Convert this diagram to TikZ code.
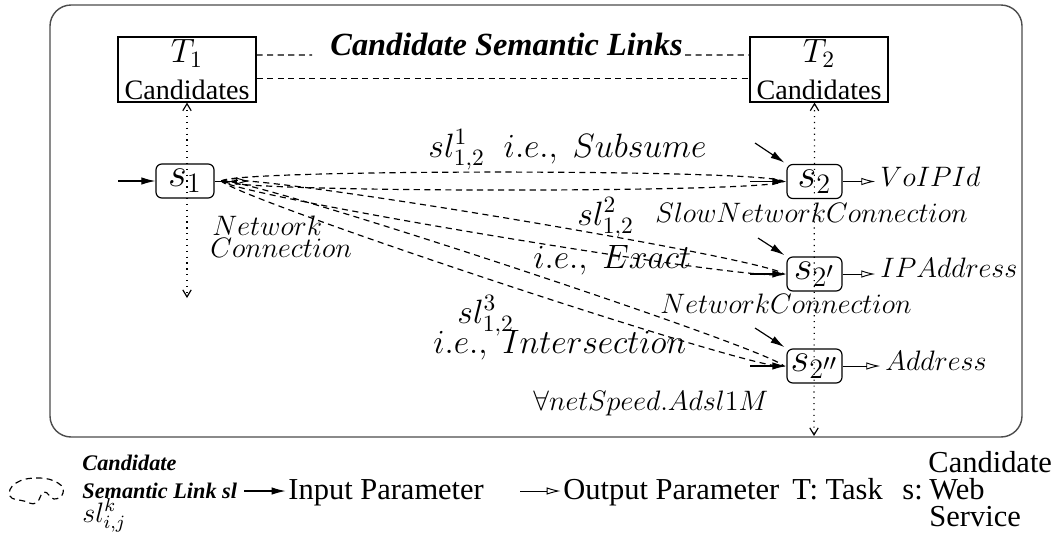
\documentclass[tikz,border=0pt]{standalone}
\usepackage[no-math]{fontspec}
\setmainfont{Liberation Serif}
\usetikzlibrary{arrows.meta}
\pgfdeclarelayer{bg}
\pgfdeclarelayer{fg}
\pgfsetlayers{bg,main,fg}

\begin{document}
\begin{tikzpicture}[x=0.015cm, y=-0.015cm,
    task/.style={draw, line width=0.5pt, minimum width=2.07cm, minimum height=0.975cm, inner sep=0pt, align=center, font=\fontsize{12}{15.5}\selectfont},
    wsbox/.style={draw, line width=0.5pt, rounded corners=2.5pt, minimum width=0.87cm, minimum height=0.51cm, inner sep=0pt, font=\fontsize{17.28}{19}\selectfont},
    link/.style={dash pattern=on 2.6pt off 1.9pt, line width=0.5pt},
    inarrow/.style={-{Latex[length=6pt,width=3.2pt]}, line width=0.5pt},
    outarrow/.style={-{Latex[open,length=6pt,width=3.2pt]}, line width=0.4pt},
    taskline/.style={dotted, line width=0.5pt, {Straight Barb[length=3pt,width=3.6pt]}-{Straight Barb[length=3pt,width=3.6pt]}},
    bigmath/.style={font=\fontsize{14.4}{16}\selectfont, inner sep=0pt, anchor=base west},
    smallmath/.style={font=\fontsize{12}{14}\selectfont, inner sep=0pt, anchor=base west},
    outlabel/.style={font=\fontsize{12}{14}\selectfont, inner sep=0pt, anchor=base west},
    legend/.style={font=\fontsize{13}{15}\selectfont, inner sep=0pt, anchor=base west},
    legendbi/.style={font=\fontsize{9.5}{12}\selectfont\bfseries\itshape, inner sep=0pt, anchor=base west},
    titletext/.style={font=\fontsize{13.8}{16}\selectfont\bfseries\itshape, inner sep=0pt, anchor=base west}
]
\useasboundingbox (0,0) rectangle (1059,552);
\draw[rounded corners=9pt, line width=0.6pt, black!70] (50,5) rectangle (1022,437);

\node[task] (T1) at (187,69.5) {{\fontsize{14.4}{16}\selectfont$T_1$}\\Candidates};
\node[task] (T2) at (819,69.5) {{\fontsize{14.4}{16}\selectfont$T_2$}\\Candidates};
\node[titletext] (ttl) at (330,55) {Candidate Semantic Links};
\coordinate (tl1) at (312,55);
\coordinate (tl2) at (685,55);
\draw[link] ([yshift=6.2pt]T1.east) -- (tl1);
\draw[link] (tl2) -- ([yshift=6.2pt]T2.west);
\draw[link] ([yshift=-4pt]T1.east) -- ([yshift=-4pt]T2.west);

\node[wsbox] (s1) at (185,181) {$s_1$};
\node[wsbox, minimum width=0.825cm] (s2) at (814.5,181.5) {$s_2$};
\node[wsbox, minimum width=0.825cm] (s2p) at (814.5,274) {$s_{2'}$};
\node[wsbox, minimum width=0.825cm] (s2pp) at (814.5,366) {$s_{2''}$};

\coordinate (t1end) at (187,298);
\coordinate (t2end) at (814,436);
\draw[taskline] (T1.south) -- (t1end);
\draw[taskline] (T2.south -| s2) -- (t2end);

\coordinate (in1) at (118,181);
\coordinate (out1) at (250,181);
\draw[inarrow] (in1) -- (s1.west);
\draw[outarrow] (s1.east) -- (out1);

\coordinate (p1) at ([xshift=0.1cm]s1.east);
\coordinate (q1) at ([xshift=-0.04cm]s2.west);
\coordinate (q2) at ([xshift=-0.04cm]s2p.west);
\coordinate (q3) at ([xshift=-0.04cm]s2pp.west);
\draw[link] (p1) .. controls (234,169) and (772,169) .. (q1) .. controls (772,193) and (234,193) .. (p1);
\draw[link] (p1) .. controls (240,170) and (770,259) .. (q2) .. controls (770,285) and (240,197) .. (p1);
\draw[link] (p1) .. controls (240,174) and (770,349) .. (q3) .. controls (770,376) and (240,200) .. (p1);

\coordinate (h2) at (750,181.5);
\coordinate (h2p) at (750,274);
\coordinate (h2pp) at (750,366);
\draw[inarrow] (h2) -- (s2.west);
\draw[inarrow] (h2p) -- (s2p.west);
\draw[inarrow] (h2pp) -- (s2pp.west);
\coordinate (d2) at (755,143);
\coordinate (d2p) at (758,238);
\coordinate (d2pp) at (755,328);
\draw[inarrow, shorten >=1pt] (d2) -- (s2.north west);
\draw[inarrow, shorten >=1pt] (d2p) -- (s2p.north west);
\draw[inarrow, shorten >=1pt] (d2pp) -- (s2pp.north west);

\node[outlabel] (vo) at (880,186) {$VoIPId$};
\node[outlabel] (ip) at (880,277) {$IPAddress$};
\node[outlabel] (ad) at (885,370) {$Address$};
\draw[outarrow, shorten >=2pt] (s2.east) -- (s2.east -| vo.west);
\draw[outarrow, shorten >=2pt] (s2p.east) -- (s2p.east -| ip.west);
\draw[outarrow, shorten >=2pt] (s2pp.east) -- (s2pp.east -| ad.west);

\node[bigmath] (lbl1) at (428,157) {$sl^1_{1,2}\;\; i.e.,\; Subsume$};
\node[bigmath] (lbl2a) at (577,225) {$sl^2_{1,2}$};
\node[bigmath] (lbl2b) at (533,268) {$i.e.,\; Exact$};
\node[bigmath] (lbl3a) at (457,323) {$sl^3_{1,2}$};
\node[bigmath] (lbl3b) at (433,353) {$i.e.,\; Intersection$};
\node[smallmath] (net1) at (212,235) {$Network$};
\node[smallmath] (net2) at (210,257) {$Connection$};
\node[smallmath] (slow) at (655,222) {$SlowNetworkConnection$};
\node[smallmath] (netc) at (660,313) {$NetworkConnection$};
\node[smallmath] (spd) at (533,410) {$\forall netSpeed.Adsl1M$};

\draw[link] plot[smooth cycle, tension=0.8] coordinates {(10,496) (16,483) (38,478) (58,483) (63,493) (54,499) (44,492) (36,503) (24,501)};
\node[legendbi] (lc1) at (82,470) {Candidate};
\node[legendbi] (lc2) at (82,498) {Semantic Link sl};
\node[font=\fontsize{12}{15}\selectfont, inner sep=0pt, anchor=base west] (lc3) at (82,522) {$sl^k_{i,j}$};
\coordinate (lgi) at (244,491);
\coordinate (lgo) at (520,491);
\node[legend] (lin) at (288,499) {Input Parameter};
\node[legend] (lout) at (563,499) {Output Parameter};
\draw[inarrow, shorten >=1pt] (lgi) -- (lin.west |- lgi);
\draw[outarrow, shorten >=1pt] (lgo) -- (lout.west |- lgo);
\node[legend] (ltask) at (792,499) {T: Task};
\node[legend] (ls) at (902,499) {s:};
\node[legend] (lw1) at (928,472) {Candidate};
\node[legend] (lw2) at (929,499) {Web};
\node[legend] (lw3) at (929,526) {Service};
\end{tikzpicture}
\end{document}
